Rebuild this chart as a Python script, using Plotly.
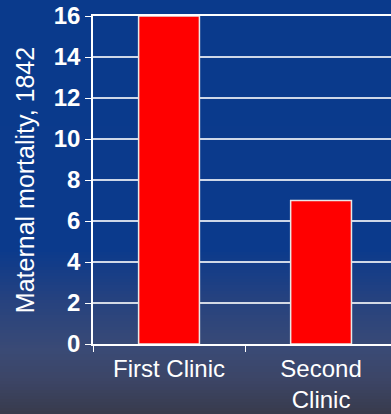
import plotly.graph_objects as go

categories = ["First Clinic", "Second<br>Clinic"]
mortality = [16, 7]
y_ticks = [0, 2, 4, 6, 8, 10, 12, 14, 16]

W, H = 391, 414
ML, MT, MB = 93, 16, 70
plot_h = H - MT - MB
plot_w = W - ML

# background gradient stops (pixel row, rgb)
stops = [(0, (10, 58, 140)), (250, (11, 58, 140)), (300, (38, 66, 127)),
         (350, (58, 74, 117)), (380, (60, 69, 102)), (414, (56, 59, 76))]

def color_at(py):
    for (p0, c0), (p1, c1) in zip(stops[:-1], stops[1:]):
        if p0 <= py <= p1:
            t = (py - p0) / (p1 - p0) if p1 > p0 else 0
            return "rgb(%d,%d,%d)" % tuple(round(a + (b - a) * t) for a, b in zip(c0, c1))
    return "rgb(%d,%d,%d)" % stops[-1][1]

shapes = []
step = 3
for py in range(0, H, step):
    y_top = (H - MB - py) / plot_h
    y_bot = (H - MB - (py + step + 1)) / plot_h
    shapes.append(dict(type="rect", xref="paper", yref="paper",
                       x0=-ML / plot_w - 0.05, x1=1.05, y0=y_bot, y1=y_top,
                       fillcolor=color_at(py + step / 2), line=dict(width=0),
                       layer="below"))

fig = go.Figure(go.Bar(
    x=categories, y=mortality,
    marker=dict(color="#ff0000", line=dict(color="#e8e8e8", width=1.5)),
    width=0.4,
))

fig.update_layout(
    width=W, height=H,
    margin=dict(l=ML, r=0, t=MT, b=MB, autoexpand=False),
    paper_bgcolor="rgb(10,58,140)",
    plot_bgcolor="rgba(0,0,0,0)",
    shapes=shapes,
    showlegend=False,
    font=dict(family="Liberation Sans, Arial", color="white"),
    bargap=0.6,
)
fig.update_xaxes(
    range=[-0.5, 1.46], showgrid=False,
    showline=True, linecolor="white", linewidth=2, mirror=True,
    ticks="outside", tickson="boundaries", ticklen=6, tickcolor="white",
    tickfont=dict(size=24, color="white"), ticklabelstandoff=2,
)
fig.update_yaxes(
    range=[0, 16], tickvals=y_ticks, ticktext=["<b>%d</b>" % v for v in y_ticks],
    showgrid=True, gridcolor="rgba(255,255,255,0.8)", gridwidth=1.5,
    showline=True, linecolor="white", linewidth=1.5,
    ticks="outside", ticklen=6, tickcolor="white",
    tickfont=dict(size=24, color="white"),
    title=dict(text="Maternal mortality, 1842", font=dict(size=25, color="white"), standoff=12),
    automargin=False, zeroline=False,
)

fig.write_html("out.html")
